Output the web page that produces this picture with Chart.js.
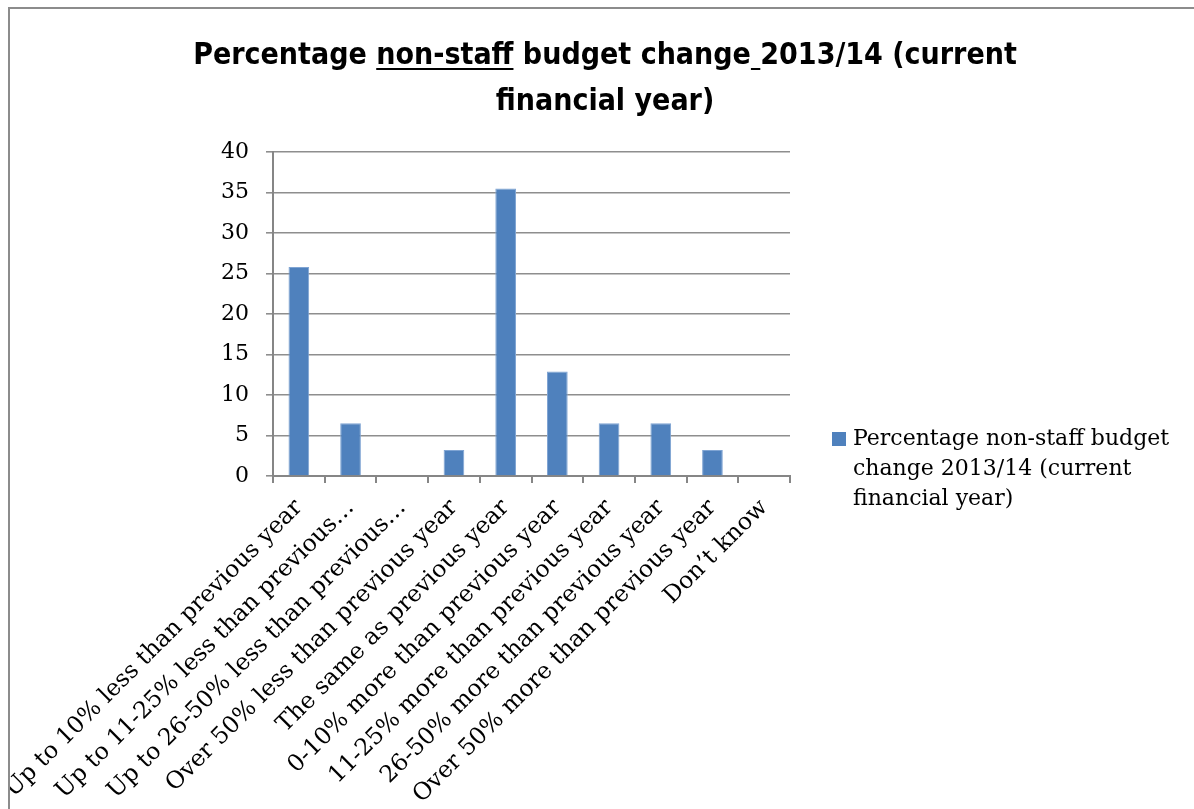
<!DOCTYPE html>
<html lang="en">
<head>
<meta charset="UTF-8">
<title>Percentage non-staff budget change 2013/14</title>
<script src="https://cdn.jsdelivr.net/npm/chart.js"></script>
<style>
  html, body { margin: 0; background: #fff; overflow: hidden; }
  .frame {
    position: absolute;
    left: 8px;
    top: 7px;
    width: 1186px;
    height: 802px;
    overflow: hidden;
    border-left: 2px solid #8c8c8c;
    border-top: 2px solid #8c8c8c;
    box-sizing: border-box;
  }
  canvas { display: block; }
</style>
</head>
<body>
<div class="frame"><canvas id="budgetChart" width="1190" height="820"></canvas></div>
<script>
const categories = [
  'Up to 10% less than previous year',
  'Up to 11-25% less than previous year',
  'Up to 26-50% less than previous year',
  'Over 50% less than previous year',
  'The same as previous year',
  '0-10% more than previous year',
  '11-25% more than previous year',
  '26-50% more than previous year',
  'Over 50% more than previous year',
  'Don\u2019t know'
];
const percentages = [25.8, 6.5, 0, 3.2, 35.5, 12.9, 6.5, 6.5, 3.2, 0];
const yTicks = [0, 5, 10, 15, 20, 25, 30, 35, 40];
const seriesName = 'Percentage non-staff budget change 2013/14 (current financial year)';
const titleLines = ['Percentage non-staff budget change 2013/14 (current', 'financial year)'];

const serif = '"DejaVu Serif", "Liberation Serif", serif';
const lineGrey = '#868686';

// title (with the underlined words) and the series key on the right
const headerAndKey = {
  id: 'headerAndKey',
  afterDraw(chart) {
    const ctx = chart.ctx;
    const cx = chart.width / 2;
    ctx.save();
    ctx.fillStyle = '#000';
    ctx.textAlign = 'left';
    ctx.textBaseline = 'alphabetic';
    ctx.font = 'bold 30px "Liberation Sans Narrow", "DejaVu Sans Condensed", "Liberation Sans", sans-serif';
    const baselines = [55, 101];
    titleLines.forEach((line, i) => {
      const x0 = cx - ctx.measureText(line).width / 2;
      ctx.fillText(line, x0, baselines[i]);
      if (i === 0) {
        const uy = baselines[0] + 4;
        const a = x0 + ctx.measureText('Percentage ').width;
        const b = a + ctx.measureText('non-staff').width;
        const c = x0 + ctx.measureText('Percentage non-staff budget change').width;
        const d = c + ctx.measureText(' ').width;
        ctx.fillRect(a, uy, b - a, 2);
        ctx.fillRect(c, uy, d - c, 2);
      }
    });

    // key
    const ds = chart.data.datasets[0];
    const area = chart.chartArea;
    const boxX = area.right + 42;
    const boxY = area.bottom - 44;
    ctx.fillStyle = ds.backgroundColor;
    ctx.fillRect(boxX, boxY, 14, 14);
    ctx.font = '22px ' + serif;
    ctx.fillStyle = '#000';
    const words = ds.label.split(' ');
    const lines = [];
    let cur = '';
    words.forEach(w => {
      const test = cur ? cur + ' ' + w : w;
      if (ctx.measureText(test).width > 330 && cur) {
        lines.push(cur);
        cur = w;
      } else {
        cur = test;
      }
    });
    lines.push(cur);
    lines.forEach((l, i) => ctx.fillText(l, boxX + 21, boxY + 13 + i * 30));
    ctx.restore();
  }
};

new Chart(document.getElementById('budgetChart'), {
  type: 'bar',
  data: {
    labels: categories,
    datasets: [{
      label: seriesName,
      data: percentages,
      backgroundColor: '#4f81bd',
      borderColor: '#7fa4d3',
      borderWidth: 1,
      barPercentage: 0.4,
      categoryPercentage: 1
    }]
  },
  options: {
    responsive: false,
    animation: false,
    layout: { padding: { top: 143, right: 410, left: 0, bottom: 0 } },
    plugins: {
      legend: { display: false },
      title: { display: false },
      tooltip: { enabled: false }
    },
    scales: {
      y: {
        min: 0,
        max: 40,
        afterBuildTicks: s => { s.ticks = yTicks.map(v => ({ value: v })); },
        afterFit: s => { s.width = 263; },
        ticks: { color: '#000', font: { family: serif, size: 22 }, padding: 17 },
        grid: { color: '#8e8e8e', lineWidth: 1.6, tickLength: 7 },
        border: { color: lineGrey, width: 2 }
      },
      x: {
        offset: true,
        afterFit: s => { s.height = 353; s.paddingLeft = 0; s.paddingRight = 0; },
        ticks: {
          color: '#000',
          font: { family: serif, size: 23.5 },
          minRotation: 45,
          maxRotation: 45,
          autoSkip: false,
          padding: 11,
          callback: function (value) {
            const label = this.getLabelForValue(value);
            return label.length > 34 ? label.slice(0, label.lastIndexOf(' ')) + '\u2026' : label;
          }
        },
        grid: { offset: true, drawOnChartArea: false, color: lineGrey, lineWidth: 2, tickLength: 7 },
        border: { color: lineGrey, width: 2 }
      }
    }
  },
  plugins: [headerAndKey]
});
</script>
</body>
</html>
